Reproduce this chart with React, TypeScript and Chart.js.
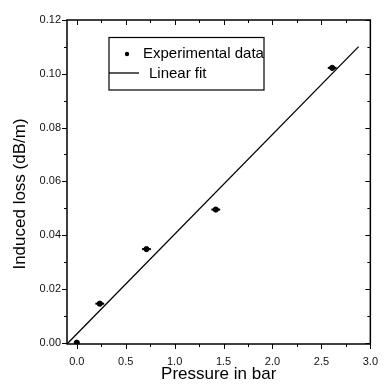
import React, { useEffect, useRef } from "react";
import { Chart, registerables } from "chart.js";

Chart.register(...registerables);

// ---- data ----
const xValues = [0.0, 0.235, 0.712, 1.42, 2.61];
const yValues = [0.0, 0.0145, 0.0348, 0.0495, 0.1022];
const xErrors = [0.0, 0.045, 0.045, 0.045, 0.045];
const fitX = [-0.1, 2.88];
const fitY = [-0.0005, 0.1101];
const xTickValues = [0, 0.5, 1.0, 1.5, 2.0, 2.5, 3.0];
const xTickLabels = ["0.0", "0.5", "1.0", "1.5", "2.0", "2.5", "3.0"];
const yTickValues = [0, 0.02, 0.04, 0.06, 0.08, 0.1, 0.12];
const yTickLabels = ["0.00", "0.02", "0.04", "0.06", "0.08", "0.10", "0.12"];
const seriesNames = ["Experimental data", "Linear fit"];
const xTitle = "Pressure in bar";
const yTitle = "Induced loss (dB/m)";

const FONT = "'Liberation Sans', Arial, sans-serif";

const framePlugin = {
  id: "originFrame",
  beforeDatasetsDraw(chart: any) {
    const ctx = chart.ctx;
    const xs = chart.scales.x;
    const ys = chart.scales.y;
    ctx.save();
    ctx.strokeStyle = "#000";
    ctx.lineWidth = 2;
    for (let i = 0; i < xValues.length; i++) {
      if (!xErrors[i]) continue;
      const py = ys.getPixelForValue(yValues[i]);
      const x1 = xs.getPixelForValue(xValues[i] - xErrors[i]);
      const x2 = xs.getPixelForValue(xValues[i] + xErrors[i]);
      ctx.beginPath();
      ctx.moveTo(x1, py);
      ctx.lineTo(x2, py);
      ctx.stroke();
    }
    ctx.restore();
  },
  afterDraw(chart: any) {
    const ctx = chart.ctx;
    const a = chart.chartArea;
    const xs = chart.scales.x;
    const ys = chart.scales.y;
    ctx.save();
    ctx.strokeStyle = "#000";
    ctx.lineWidth = 1.5;
    ctx.strokeRect(a.left, a.top, a.right - a.left, a.bottom - a.top);

    const majorLen = 5;
    const minorLen = 3;
    ctx.lineWidth = 1;
    const xMinor: number[] = [];
    for (let i = 0; i < xTickValues.length - 1; i++) xMinor.push((xTickValues[i] + xTickValues[i + 1]) / 2);
    const yMinor: number[] = [];
    for (let i = 0; i < yTickValues.length - 1; i++) yMinor.push((yTickValues[i] + yTickValues[i + 1]) / 2);

    const drawX = (v: number, len: number) => {
      const px = Math.round(xs.getPixelForValue(v)) + 0.5;
      ctx.beginPath();
      ctx.moveTo(px, a.bottom);
      ctx.lineTo(px, a.bottom + len);
      ctx.moveTo(px, a.top);
      ctx.lineTo(px, a.top + len);
      ctx.stroke();
    };
    const drawY = (v: number, len: number) => {
      const py = Math.round(ys.getPixelForValue(v)) + 0.5;
      ctx.beginPath();
      ctx.moveTo(a.left, py);
      ctx.lineTo(a.left - len, py);
      ctx.moveTo(a.right, py);
      ctx.lineTo(a.right - len, py);
      ctx.stroke();
    };
    xTickValues.forEach((v) => drawX(v, majorLen));
    xMinor.forEach((v) => drawX(v, minorLen));
    yTickValues.forEach((v) => drawY(v, majorLen));
    yMinor.forEach((v) => drawY(v, minorLen));

    // y-axis title
    ctx.fillStyle = "#000";
    ctx.font = `17px ${FONT}`;
    ctx.textAlign = "center";
    ctx.textBaseline = "middle";
    ctx.translate(20, 194);
    ctx.rotate(-Math.PI / 2);
    ctx.fillText(yTitle, 0, 0);
    ctx.restore();

    // legend box
    ctx.save();
    const lx = a.left + 42;
    const ly = a.top + 17.5;
    const lw = 155;
    const lh = 52.5;
    ctx.fillStyle = "#fff";
    ctx.fillRect(lx, ly, lw, lh);
    ctx.strokeStyle = "#000";
    ctx.lineWidth = 1.2;
    ctx.strokeRect(lx, ly, lw, lh);
    ctx.fillStyle = "#000";
    ctx.beginPath();
    ctx.arc(lx + 18, ly + 16.5, 2.2, 0, Math.PI * 2);
    ctx.fill();
    ctx.font = `15px ${FONT}`;
    ctx.textAlign = "left";
    ctx.textBaseline = "middle";
    ctx.fillText(seriesNames[0], lx + 34, ly + 16);
    ctx.lineWidth = 1.3;
    ctx.beginPath();
    ctx.moveTo(lx, ly + 35.5);
    ctx.lineTo(lx + 30, ly + 35.5);
    ctx.stroke();
    ctx.fillText(seriesNames[1], lx + 40, ly + 36);
    ctx.restore();
  },
};

export default function App() {
  const canvasRef = useRef<HTMLCanvasElement | null>(null);

  useEffect(() => {
    document.body.style.margin = "0";
    const canvas = canvasRef.current;
    if (!canvas) return;
    const chart = new Chart(canvas, {
      type: "scatter",
      data: {
        datasets: [
          {
            label: seriesNames[0],
            data: xValues.map((x, i) => ({ x, y: yValues[i] })),
            backgroundColor: "#000",
            borderColor: "#000",
            pointRadius: 2.6,
            pointHoverRadius: 2.6,
            showLine: false,
            order: 1,
          },
          {
            label: seriesNames[1],
            type: "line",
            data: fitX.map((x, i) => ({ x, y: fitY[i] })),
            borderColor: "#000",
            borderWidth: 1.3,
            pointRadius: 0,
            fill: false,
            order: 2,
          } as any,
        ],
      },
      options: {
        animation: false,
        responsive: true,
        maintainAspectRatio: false,
        layout: { padding: { top: 20, right: 8, left: 0, bottom: 0 } },
        plugins: {
          legend: { display: false },
          tooltip: { enabled: false },
        },
        scales: {
          x: {
            type: "linear",
            min: -0.1,
            max: 3.0,
            afterBuildTicks: (scale: any) => {
              scale.ticks = xTickValues.map((v) => ({ value: v }));
            },
            afterFit: (scale: any) => {
              scale.height = 46;
            },
            grid: { display: false, drawTicks: false },
            border: { display: false },
            ticks: {
              padding: 11,
              color: "#111",
              font: { family: FONT, size: 11 },
              maxRotation: 0,
              autoSkip: false,
              callback: (v: any) => {
                const i = xTickValues.findIndex((t) => Math.abs(t - Number(v)) < 1e-9);
                return i >= 0 ? xTickLabels[i] : "";
              },
            },
            title: {
              display: true,
              text: xTitle,
              color: "#000",
              font: { family: FONT, size: 17 },
              padding: { top: 0, bottom: 5 },
            },
          },
          y: {
            type: "linear",
            min: -0.0005,
            max: 0.12,
            afterBuildTicks: (scale: any) => {
              scale.ticks = yTickValues.map((v) => ({ value: v }));
            },
            afterFit: (scale: any) => {
              scale.width = 67;
            },
            grid: { display: false, drawTicks: false },
            border: { display: false },
            ticks: {
              padding: 6,
              color: "#111",
              font: { family: FONT, size: 11 },
              autoSkip: false,
              callback: (v: any) => {
                const i = yTickValues.findIndex((t) => Math.abs(t - Number(v)) < 1e-9);
                return i >= 0 ? yTickLabels[i] : "";
              },
            },
          },
        },
      },
      plugins: [framePlugin],
    });
    return () => chart.destroy();
  }, []);

  return (
    <div style={{ position: "absolute", left: 0, top: 0, width: 389, height: 390, background: "#fff" }}>
      <canvas ref={canvasRef} />
    </div>
  );
}
